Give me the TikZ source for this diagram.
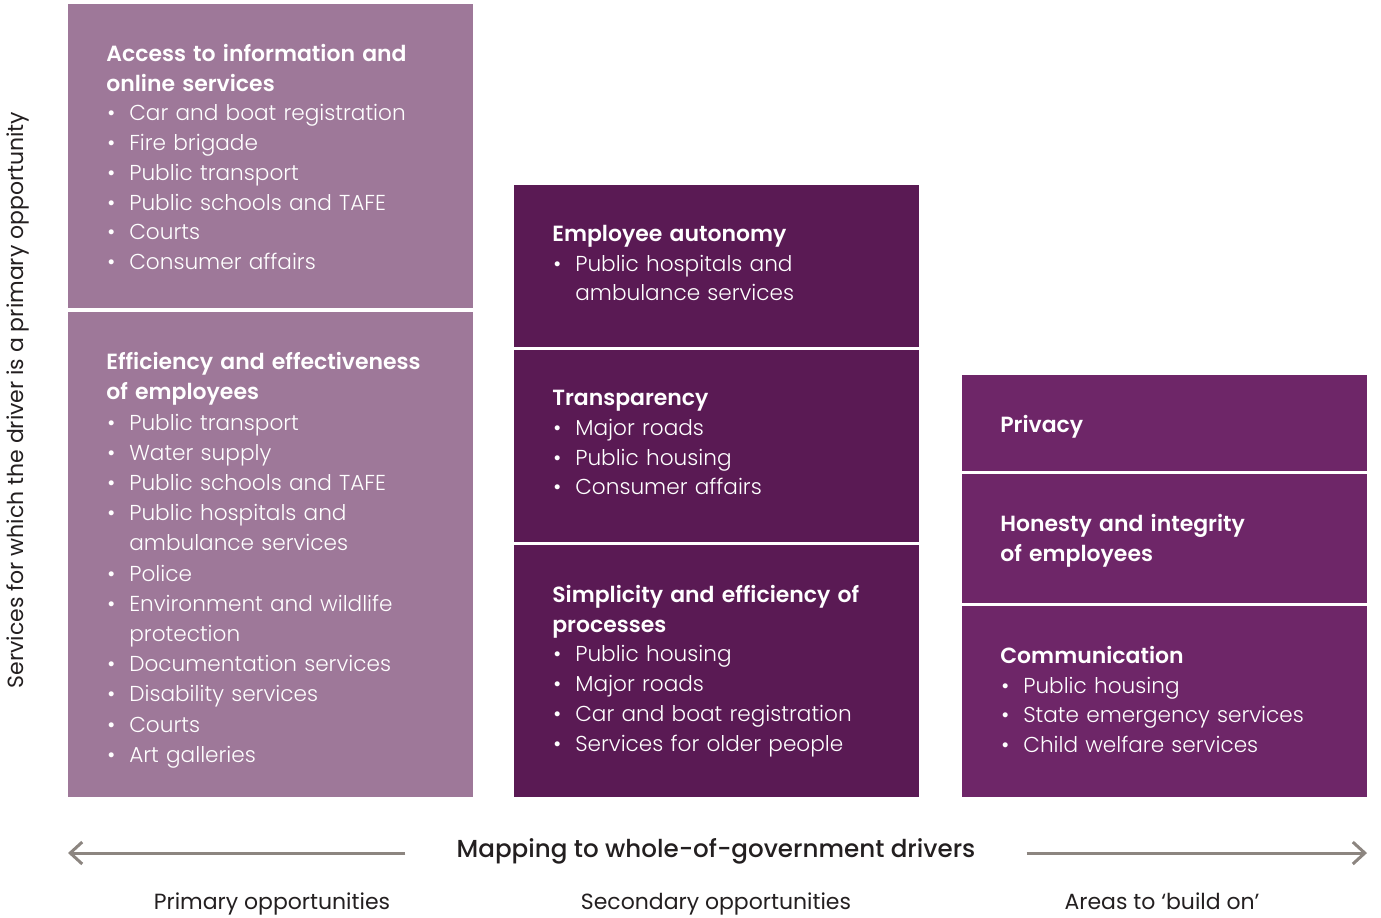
\documentclass[tikz,border=0pt]{standalone}
\usepackage{fontspec}
\setmainfont{Poppins}[UprightFont=* Light, BoldFont=* SemiBold]
\newfontfamily\medfont{Poppins Medium}
\newfontfamily\regfont{Poppins}
\usetikzlibrary{arrows.meta, positioning}
\definecolor{mauve}{HTML}{9E7899}
\definecolor{plum}{HTML}{5A1A54}
\definecolor{grape}{HTML}{6E2668}
\definecolor{arrowgrey}{HTML}{8C8580}
\definecolor{ink}{HTML}{231F20}
\tikzset{
    %Define standard arrow tip
    >={Straight Barb[length=2.4mm,width=4.4mm]},
}
% bullet item, and its wrapped second line
\newcommand{\itm}[1]{\par\noindent\makebox[0.46cm][l]{\hspace{0.02cm}•}#1}
\newcommand{\cnt}[1]{\par\noindent\hspace*{0.46cm}#1}

\begin{document}
\begin{tikzpicture}[x=0.02cm, y=-0.02cm,
    panel/.style = {anchor=north west, inner sep=0, minimum width=8.1cm},
    body/.style = {inner sep=0, text width=7.3cm, align=left, text=white,
                   font=\fontsize{12.3}{16.9}\selectfont},
    caption/.style = {anchor=base, text=ink, font=\regfont\fontsize{12.5}{15}\selectfont},
  ]
  \useasboundingbox (0,0) rectangle (1381,917);

  % primary opportunities
  \node[panel, fill=mauve, minimum height=6.08cm] (access) at (68,4) {};
  \node[panel, fill=mauve, minimum height=9.70cm] (efficiency) at (68,312) {};

  % secondary opportunities
  \node[panel, fill=plum, minimum height=3.24cm] (autonomy) at (514,185) {};
  \node[panel, fill=plum, minimum height=3.84cm] (transparency) at (514,350) {};
  \node[panel, fill=plum, minimum height=5.04cm] (simplicity) at (514,545) {};

  % areas to build on
  \node[panel, fill=grape, minimum height=1.92cm] (privacy) at (962,375) {};
  \node[panel, fill=grape, minimum height=2.58cm] (honesty) at (962,474) {};
  \node[panel, fill=grape, minimum height=3.82cm] (communication) at (962,606) {};

  \node[body, below right=0.80cm and 0.76cm of access.north west] (accessList) {%
    \textbf{\fontsize{12.5}{16.9}\selectfont Access to information and\\online services}
    \itm{Car and boat registration}
    \itm{Fire brigade}
    \itm{Public transport}
    \itm{Public schools and TAFE}
    \itm{Courts}
    \itm{Consumer affairs}};
  \node[body, below right=0.80cm and 0.76cm of efficiency.north west,
        font=\fontsize{12.3}{17.2}\selectfont] (efficiencyList) {%
    \textbf{\fontsize{12.5}{17.2}\selectfont Efficiency and effectiveness\\of employees}
    \itm{Public transport}
    \itm{Water supply}
    \itm{Public schools and TAFE}
    \itm{Public hospitals and}
    \cnt{ambulance services}
    \itm{Police}
    \itm{Environment and wildlife}
    \cnt{protection}
    \itm{Documentation services}
    \itm{Disability services}
    \itm{Courts}
    \itm{Art galleries}};
  \node[body, below right=0.80cm and 0.76cm of autonomy.north west] (autonomyList) {%
    \textbf{\fontsize{12.5}{16.9}\selectfont Employee autonomy}
    \itm{Public hospitals and}
    \cnt{ambulance services}};
  \node[body, below right=0.80cm and 0.76cm of transparency.north west] (transparencyList) {%
    \textbf{\fontsize{12.5}{16.9}\selectfont Transparency}
    \itm{Major roads}
    \itm{Public housing}
    \itm{Consumer affairs}};
  \node[body, below right=0.80cm and 0.76cm of simplicity.north west] (simplicityList) {%
    \textbf{\fontsize{12.5}{16.9}\selectfont Simplicity and efficiency of\\processes}
    \itm{Public housing}
    \itm{Major roads}
    \itm{Car and boat registration}
    \itm{Services for older people}};
  \node[body, below right=0.80cm and 0.76cm of privacy.north west] (privacyList) {%
    \textbf{\fontsize{12.5}{16.9}\selectfont Privacy}};
  \node[body, below right=0.80cm and 0.76cm of honesty.north west] (honestyList) {%
    \textbf{\fontsize{12.5}{16.9}\selectfont Honesty and integrity\\of employees}};
  \node[body, below right=0.80cm and 0.76cm of communication.north west] (communicationList) {%
    \textbf{\fontsize{12.5}{16.9}\selectfont Communication}
    \itm{Public housing}
    \itm{State emergency services}
    \itm{Child welfare services}};

  % axes
  \node[caption, anchor=center, rotate=90] (axis) at (18,400) {Services for which the driver is a primary opportunity};
  \node[anchor=base, inner sep=0, text=ink, font=\medfont\fontsize{14}{17}\selectfont] (mapping) at (716,857) {Mapping to whole-of-government drivers};
  \coordinate (leftEnd) at (68,853);
  \coordinate (rightEnd) at (1367,853);
  \draw[->, arrowgrey, line width=0.06cm] ([xshift=-1.02cm]mapping.west |- leftEnd) -- (leftEnd);
  \draw[->, arrowgrey, line width=0.06cm] ([xshift=1.02cm]mapping.east |- rightEnd) -- (rightEnd);

  \node[caption] (primary) at (272,909) {Primary opportunities};
  \node[caption] (secondary) at (716,909) {Secondary opportunities};
  \node[caption] (buildOn) at (1162,909) {Areas to ‘build on’};
\end{tikzpicture}
\end{document}
